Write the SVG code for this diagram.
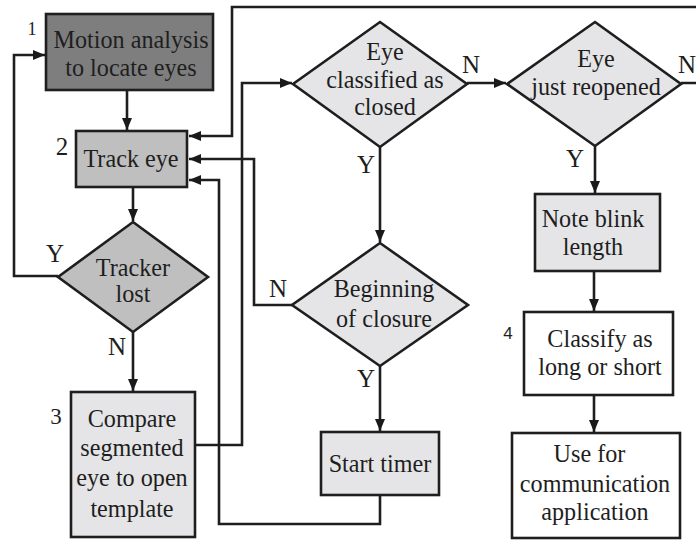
<svg xmlns="http://www.w3.org/2000/svg" width="696" height="540" viewBox="0 0 696 540">
<defs>
<marker id="ah" viewBox="0 0 12 10" refX="12" refY="5" markerWidth="12" markerHeight="10" markerUnits="userSpaceOnUse" orient="auto">
<path d="M0,0 L12,5 L0,10 Z" fill="#1a1a1a"/>
</marker>
<style>
.s{stroke:#1e1e1e;stroke-width:2.6}
.dk{fill:#7e7e7e}
.md{fill:#bfbfbf}
.lt{fill:#e5e5e7}
.wh{fill:#ffffff}
.t{font-family:"Liberation Serif","Times New Roman",serif;font-size:26px;fill:#1e1e1e;text-anchor:middle}
.lb{font-family:"Liberation Serif","Times New Roman",serif;font-size:25px;fill:#1e1e1e;text-anchor:middle}
.num{font-family:"Liberation Serif","Times New Roman",serif;fill:#1e1e1e;text-anchor:middle}
.num4{font-family:"Liberation Sans",Arial,sans-serif;font-size:17px;fill:#1e1e1e;text-anchor:middle}
.c{fill:none;stroke:#1e1e1e;stroke-width:2.6}
</style>
</defs>
<rect width="696" height="540" fill="#ffffff"/>
<g id="connectors">
<path class="c" d="M127,90 V130" marker-end="url(#ah)"/>
<path class="c" d="M133,187 V221" marker-end="url(#ah)"/>
<path class="c" d="M133,332 V391" marker-end="url(#ah)"/>
<path class="c" d="M58,276 H14 V55 H45" marker-end="url(#ah)"/>
<path class="c" d="M195,445 H242 V83 H292" marker-end="url(#ah)"/>
<path class="c" d="M467,83 H506" marker-end="url(#ah)"/>
<path class="c" d="M380,147 V242" marker-end="url(#ah)"/>
<path class="c" d="M292,305 H254 V159 H189" marker-end="url(#ah)"/>
<path class="c" d="M380,366 V431" marker-end="url(#ah)"/>
<path class="c" d="M380,495 V524 H219 V180 H189" marker-end="url(#ah)"/>
<path class="c" d="M681,83 H700 M700,7 H232 V136 H189" marker-end="url(#ah)"/>
<path class="c" d="M595,146 V193" marker-end="url(#ah)"/>
<path class="c" d="M594,271 V311" marker-end="url(#ah)"/>
<path class="c" d="M594,395 V432" marker-end="url(#ah)"/>
<text class="lb" x="55" y="262">Y</text>
<text class="lb" x="117" y="355">N</text>
<text class="lb" x="471" y="73">N</text>
<text class="lb" x="366" y="173">Y</text>
<text class="lb" x="278" y="297">N</text>
<text class="lb" x="366" y="387">Y</text>
<text class="lb" x="687" y="73">N</text>
<text class="lb" x="575" y="167">Y</text>
</g>
<g id="n1">
<rect class="s dk" x="46" y="14" width="167" height="76"/>
<text class="num" x="32" y="35" font-size="18">1</text>
<g transform="translate(131,0) scale(0.93,1)"><text class="t" x="0" y="48">Motion analysis</text><text class="t" x="0" y="76">to locate eyes</text></g>
</g>
<g id="n2">
<rect class="s md" x="76" y="131" width="111" height="56"/>
<text class="num" x="62" y="155" font-size="25">2</text>
<g transform="translate(131,0) scale(0.93,1)"><text class="t" x="0" y="167">Track eye</text></g>
</g>
<g id="n3">
<polygon class="s md" points="133,222 208,277 133,332 58,277"/>
<g transform="translate(133,0) scale(0.93,1)"><text class="t" x="0" y="276">Tracker</text><text class="t" x="0" y="302">lost</text></g>
</g>
<g id="n4">
<rect class="s lt" x="71" y="392" width="124" height="145"/>
<text class="num" x="56" y="424" font-size="23">3</text>
<g transform="translate(132,0) scale(0.93,1)"><text class="t" x="0" y="427">Compare</text><text class="t" x="0" y="456">segmented</text><text class="t" x="0" y="486">eye to open</text><text class="t" x="0" y="517">template</text></g>
</g>
<g id="n5">
<polygon class="s lt" points="380,22 467,84 380,147 293,84"/>
<g transform="translate(385,0) scale(0.93,1)"><text class="t" x="0" y="60">Eye</text><text class="t" x="0" y="88">classified as</text><text class="t" x="0" y="115">closed</text></g>
</g>
<g id="n6">
<polygon class="s lt" points="595,22 681,84 595,146 507,84"/>
<g transform="translate(596,0) scale(0.93,1)"><text class="t" x="0" y="67">Eye</text><text class="t" x="0" y="95">just reopened</text></g>
</g>
<g id="n7">
<polygon class="s lt" points="380,243 468,305 380,366 292,305"/>
<g transform="translate(384,0) scale(0.93,1)"><text class="t" x="0" y="297">Beginning</text><text class="t" x="0" y="327">of closure</text></g>
</g>
<g id="n8">
<rect class="s lt" x="321" y="432" width="118" height="63"/>
<g transform="translate(380,0) scale(0.93,1)"><text class="t" x="0" y="472">Start timer</text></g>
</g>
<g id="n9">
<rect class="s lt" x="535" y="194" width="125" height="77"/>
<g transform="translate(593,0) scale(0.93,1)"><text class="t" x="0" y="227">Note blink</text><text class="t" x="0" y="255">length</text></g>
</g>
<g id="n10">
<rect class="s wh" x="524" y="312" width="149" height="83"/>
<text class="num4" x="508" y="339">4</text>
<g transform="translate(600,0) scale(0.93,1)"><text class="t" x="0" y="347">Classify as</text><text class="t" x="0" y="375">long or short</text></g>
</g>
<g id="n11">
<rect class="s wh" x="512" y="433" width="168" height="105"/>
<g transform="translate(595,0) scale(0.93,1)"><text class="t" x="-6" y="462">Use for</text><text class="t" x="0" y="492">communication</text><text class="t" x="0" y="520">application</text></g>
</g>
</svg>
